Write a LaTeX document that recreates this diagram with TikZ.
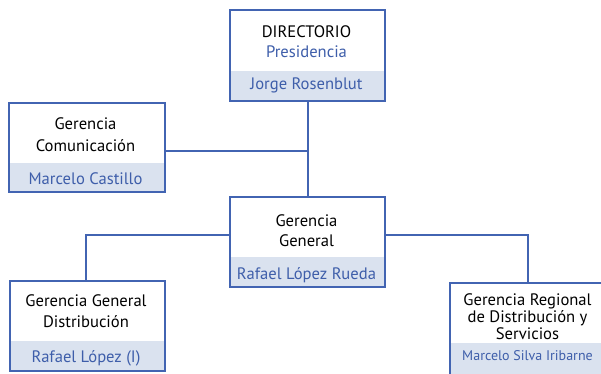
\documentclass[tikz,border=0pt]{standalone}
\usepackage{fontspec}
\setmainfont{PT Sans}
\definecolor{lineblue}{RGB}{66,100,178}
\definecolor{bandfill}{RGB}{218,226,239}
\definecolor{nameblue}{RGB}{62,94,170}
\begin{document}
\begin{tikzpicture}[x=1pt,y=-1pt,
  orgbox/.style 2 args={draw=lineblue, line width=2pt, fill=white, rectangle, inner sep=0pt,
    anchor=north west, minimum width=#1, minimum height=#2},
  band/.style={path picture={\fill[bandfill] (path picture bounding box.south west)
      rectangle ([yshift=#1]path picture bounding box.south east);}},
  ttl/.style={anchor=base, inner sep=0pt, font=\fontsize{16.6}{19}\selectfont},
  pname/.style={ttl, text=nameblue},
  conn/.style={draw=lineblue, line width=2pt}]
\useasboundingbox (0,0) rectangle (601,373);
\clip (0,0) rectangle (601,373);
% connectors
\coordinate (jc) at (307.5,150.5);
\coordinate (jl) at (86,234.5);
\coordinate (jr) at (527.5,234.5);
% boxes
\node[orgbox={155pt}{90.5pt}, band=30pt] (dir) at (229,9) {};
\node[orgbox={156pt}{89.5pt}, band=29.5pt] (com) at (7.5,101.5) {};
\node[orgbox={155pt}{90.5pt}, band=30pt] (gg) at (229,195.5) {};
\node[orgbox={155pt}{90.5pt}, band=30pt] (gd) at (8.5,279.5) {};
\node[orgbox={158pt}{94pt}, band=34.5pt] (gr) at (448.5,282) {};
\draw[conn] (dir.south -| jc) -- (gg.north -| jc);
\draw[conn] (com.east |- jc) -- (jc);
\draw[conn] (gg.west |- jl) -- (jl) -- (gd.north -| jl);
\draw[conn] (gg.east |- jr) -- (jr) -- (gr.north -| jr);
% texts
\node[ttl] (t1a) at (306.5,37.7) {DIRECTORIO};
\node[pname]  (t1b) at (306.5,57.7) {Presidencia};
\node[pname]  (t1c) at (306.5,89.3) {Jorge Rosenblut};
\node[ttl] (t2a) at (85.5,129.3) {Gerencia};
\node[ttl] (t2b) at (85.5,151.7) {Comunicación};
\node[pname]  (t2c) at (85.5,184.3) {Marcelo Castillo};
\node[ttl] (t3a) at (306.5,226.7) {Gerencia};
\node[ttl] (t3b) at (306.5,246.7) {General};
\node[pname]  (t3c) at (306.5,279) {Rafael López Rueda};
\node[ttl] (t4a) at (86,306.7) {Gerencia General};
\node[ttl] (t4b) at (86,327.3) {Distribución};
\node[pname]  (t4c) at (86,362.7) {Rafael López (I)};
\node[ttl] (t5a) at (527.5,305.7) {Gerencia Regional};
\node[ttl] (t5b) at (527.5,322.3) {de Distribución y};
\node[ttl] (t5c) at (527.5,339) {Servicios};
\node[pname, font=\fontsize{14}{16}\selectfont] (t5d) at (527.5,360.7) {Marcelo Silva Iribarne};
\end{tikzpicture}
\end{document}
